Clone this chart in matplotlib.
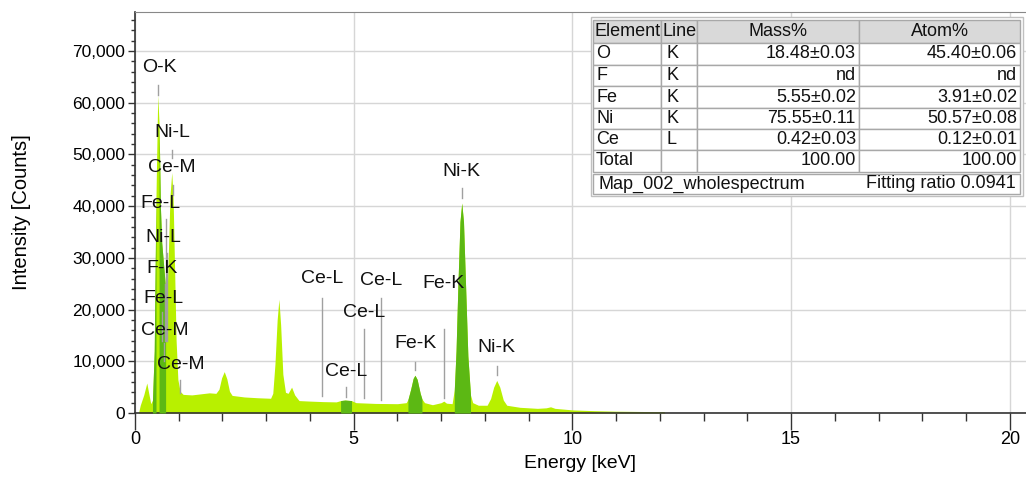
import numpy as np
import matplotlib
matplotlib.use('Agg')
import matplotlib.pyplot as plt
from matplotlib.ticker import MultipleLocator, FuncFormatter
from matplotlib.patches import Rectangle

plt.rcParams['font.family'] = ['Liberation Sans', 'DejaVu Sans']

# spectrum (keV, counts)
energy = np.array([
    0.00, 0.08, 0.12, 0.20, 0.27, 0.31, 0.36, 0.40, 0.44, 0.48, 0.52, 0.55, 0.58,
    0.61, 0.64, 0.67, 0.70, 0.73, 0.76, 0.80, 0.84, 0.87, 0.90, 0.94, 0.98, 1.03,
    1.10, 1.30, 1.50, 1.70, 1.85, 1.92, 1.98, 2.04, 2.10, 2.16, 2.22, 2.50, 2.80,
    3.10, 3.15, 3.20, 3.25, 3.29, 3.33, 3.38, 3.44, 3.50, 3.58, 3.65, 3.75, 4.00,
    4.30, 4.60, 4.70, 4.80, 4.95, 5.05, 5.50, 6.00, 6.20, 6.24, 6.30, 6.36, 6.40,
    6.45, 6.52, 6.56, 6.62, 6.80, 7.00, 7.06, 7.12, 7.25, 7.30, 7.34, 7.38, 7.43,
    7.47, 7.51, 7.56, 7.61, 7.67, 7.72, 7.85, 8.05, 8.13, 8.20, 8.27, 8.34, 8.42,
    8.50, 8.80, 9.20, 9.40, 9.50, 9.60, 10.00, 10.50, 11.00, 11.50, 12.10, 12.11])
counts = np.array([
    0, 0, 1500, 3500, 5800, 4000, 1800, 2500, 12000, 42000, 61500, 56000, 40000,
    33000, 30000, 27000, 24000, 22000, 30000, 42000, 46500, 42000, 30000, 14000, 6500, 4200,
    3600, 3500, 3700, 3900, 3800, 4600, 6800, 8000, 6600, 4200, 3400, 3100, 2950,
    2850, 3800, 9500, 18000, 22000, 17000, 7500, 4000, 3800, 5000, 3500, 2400, 2300,
    2200, 2150, 2400, 2500, 2400, 2000, 1850, 1800, 2000, 2600, 4500, 6700, 7300,
    6500, 3800, 2700, 2000, 1600, 2000, 2300, 1900, 1800, 4500, 12000, 24000, 37000,
    40600, 37000, 24000, 11000, 3500, 2000, 1500, 1500, 2800, 5000, 6300, 5000, 2500,
    1500, 1100, 900, 1000, 1200, 900, 600, 450, 350, 300, 250, 0])

# fitted regions (dark green)
roi_lo = [0.40, 0.55, 4.70, 6.24, 7.30]
roi_hi = [0.48, 0.70, 4.95, 6.56, 7.67]

# peak markers: label, text x (keV), text y, marker x, marker top, marker bottom
mk_label = ['O-K', 'Ni-L', 'Ce-M', 'Fe-L', 'Ni-L', 'F-K', 'Fe-L', 'Ce-M', 'Ce-M',
            'Ce-L', 'Ce-L', 'Ce-L', 'Ce-L', 'Fe-K', 'Fe-K', 'Ni-K', 'Ni-K']
mk_tx = [0.57, 0.85, 0.84, 0.59, 0.64, 0.63, 0.64, 0.69, 1.04,
         4.27, 4.82, 5.23, 5.62, 6.42, 7.06, 7.47, 8.27]
mk_ty = [66900, 54200, 47400, 40600, 34000, 28000, 22200, 16000, 9300,
         26100, 8100, 19500, 25700, 13500, 25100, 46800, 12600]
mk_x = [0.525, 0.85, 0.88, 0.705, 0.743, 0.677, 0.615, 0.66, 1.03,
        4.27, 4.82, 5.24, 5.62, 6.41, 7.07, 7.47, 8.27]
mk_top = [63500, 50900, 44100, 37500, 31000, 25000, 19500, 13500, 6400,
          22200, 5100, 16200, 22200, 9900, 16200, 43500, 9100]
mk_bot = [61500, 49300, 42200, 14000, 14000, 14000, 14000, 10000, 3900,
          3300, 3150, 2900, 2500, 8300, 2900, 41600, 7350]

# quantification table
elements = ['O', 'F', 'Fe', 'Ni', 'Ce', 'Total']
lines = ['K', 'K', 'K', 'K', 'L', '']
mass = ['18.48\u00b10.03', 'nd', '5.55\u00b10.02', '75.55\u00b10.11', '0.42\u00b10.03', '100.00']
atom = ['45.40\u00b10.06', 'nd', '3.91\u00b10.02', '50.57\u00b10.08', '0.12\u00b10.01', '100.00']
footer_left = 'Map_002_wholespectrum'
footer_right = 'Fitting ratio 0.0941'

light = '#b8f000'
dark = '#5cb814'

W, H = 1026, 492
fig = plt.figure(figsize=(W / 100, H / 100), dpi=100)
ax = fig.add_axes([135 / W, 79 / H, 891 / W, 401 / H])
ax.set_xlim(0, 20.37)
ax.set_ylim(0, 77550)

ax.fill_between(energy, counts, color=light, lw=0, zorder=2)
for lo, hi in zip(roi_lo, roi_hi):
    m = (energy >= lo - 1e-9) & (energy <= hi + 1e-9)
    ax.fill_between(energy[m], counts[m], color=dark, lw=0, zorder=3)

for i in range(len(mk_label)):
    ax.plot([mk_x[i], mk_x[i]], [mk_bot[i], mk_top[i]], color='#a0a0a0', lw=1, zorder=4)
    ax.text(mk_tx[i], mk_ty[i], mk_label[i], ha='center', va='center',
            fontsize=14, color='#111111', zorder=5)

ax.grid(which='major', color='#d6d6d6', lw=1)
ax.set_axisbelow(True)
ax.set_xticks([0, 5, 10, 15, 20])
ax.xaxis.set_minor_locator(MultipleLocator(1))
ax.yaxis.set_major_locator(MultipleLocator(10000))
ax.yaxis.set_minor_locator(MultipleLocator(2000))
ax.yaxis.set_major_formatter(FuncFormatter(lambda v, p: f'{int(v):,}'))
ax.tick_params(axis='x', which='major', length=12, width=1, color='#333333',
               labelsize=13, pad=1)
ax.tick_params(axis='x', which='minor', length=6, width=1, color='#333333')
ax.tick_params(axis='y', which='major', length=5, width=1, color='#333333',
               labelsize=12.5, pad=2)
ax.tick_params(axis='y', which='minor', length=3, width=1, color='#333333')
ax.spines['right'].set_visible(False)
ax.spines['top'].set_color('#888888')
for s in ['left', 'bottom']:
    ax.spines[s].set_color('#333333')
    ax.spines[s].set_linewidth(1.2)
ax.set_xlabel('Energy [keV]', fontsize=14, labelpad=5)
ax.set_ylabel('Intensity [Counts]', fontsize=14.5, labelpad=30)


# table drawn in pixel coordinates of the figure
def fx(px):
    return px / W


def fy(py):
    return 1 - py / H


def box(x0, y0, x1, y1, fc='white', ec='#a8a8a8'):
    fig.add_artist(Rectangle((fx(x0), fy(y1)), fx(x1) - fx(x0), fy(y0) - fy(y1),
                             transform=fig.transFigure, fc=fc, ec=ec, lw=1, zorder=10))


tfont = dict(fontsize=13, color='#111111', zorder=11)
cols = [593, 661, 697, 859, 1020]
rows = [20, 43, 65, 86, 108, 129, 150, 172]
box(591, 17, 1023, 196, fc='white', ec='#c0c0c0')
heads = ['Element', 'Line', 'Mass%', 'Atom%']
for j in range(4):
    box(cols[j], rows[0], cols[j + 1], rows[1], fc='#d9d9d9')
    if j < 2:
        fig.text(fx(cols[j] + 1), fy((rows[0] + rows[1]) / 2), heads[j],
                 ha='left', va='center', **tfont)
    else:
        fig.text(fx((cols[j] + cols[j + 1]) / 2), fy((rows[0] + rows[1]) / 2), heads[j],
                 ha='center', va='center', **tfont)
for i in range(len(elements)):
    y0, y1 = rows[i + 1], rows[i + 2]
    yc = fy((y0 + y1) / 2)
    for j in range(4):
        box(cols[j], y0, cols[j + 1], y1)
    fig.text(fx(cols[0] + 3), yc, elements[i], ha='left', va='center', **tfont)
    fig.text(fx(cols[1] + 5), yc, lines[i], ha='left', va='center', **tfont)
    fig.text(fx(cols[3] - 3), yc, mass[i], ha='right', va='center', **tfont)
    fig.text(fx(cols[4] - 3), yc, atom[i], ha='right', va='center', **tfont)
box(cols[0], 174, cols[4], 194)
fig.text(fx(cols[0] + 5), fy(184), footer_left, ha='left', va='center', **tfont)
fig.text(fx(cols[4] - 4), fy(184), footer_right, ha='right', va='center', **tfont)

fig.savefig('out.png', dpi=100)
